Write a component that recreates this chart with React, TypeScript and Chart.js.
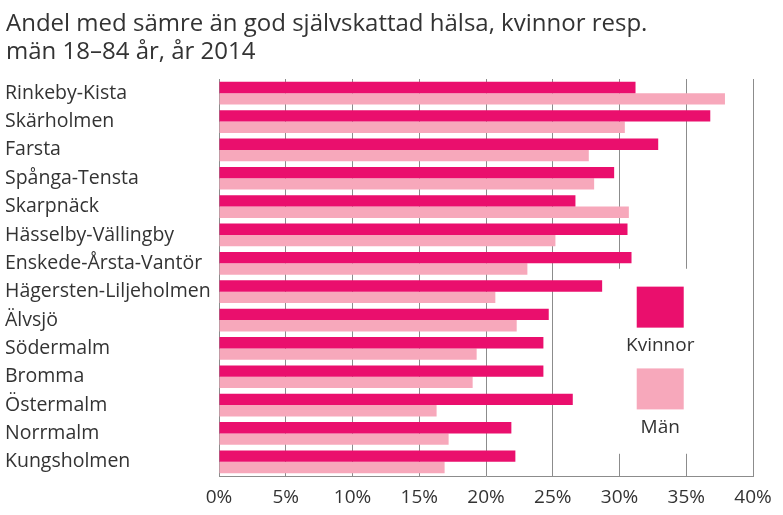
import React, { useEffect, useRef } from 'react';
import { Chart, registerables } from 'chart.js';

Chart.register(...registerables);

const titleLines = ['Andel med sämre än god självskattad hälsa, kvinnor resp.', 'män 18–84 år, år 2014'];
const categories = [
  'Rinkeby-Kista',
  'Skärholmen',
  'Farsta',
  'Spånga-Tensta',
  'Skarpnäck',
  'Hässelby-Vällingby',
  'Enskede-Årsta-Vantör',
  'Hägersten-Liljeholmen',
  'Älvsjö',
  'Södermalm',
  'Bromma',
  'Östermalm',
  'Norrmalm',
  'Kungsholmen',
];
const kvinnor = [31.2, 36.8, 32.9, 29.6, 26.7, 30.6, 30.9, 28.7, 24.7, 24.3, 24.3, 26.5, 21.9, 22.2];
const man = [37.9, 30.4, 27.7, 28.1, 30.7, 25.2, 23.1, 20.7, 22.3, 19.3, 19.0, 16.3, 17.2, 16.9];
const xTickValues = [0, 5, 10, 15, 20, 25, 30, 35, 40];
const seriesNames = ['Kvinnor', 'Män'];

const KV_COLOR = '#ea0f6d';
const MAN_COLOR = '#f7a8bb';
const TEXT = '#333333';
const FONT = '"Open Sans", sans-serif';

const decorPlugin = {
  id: 'decor',
  beforeDatasetsDraw(chart: any) {
    const { ctx, chartArea, scales } = chart;
    const x = scales.x;
    const h = chartArea.bottom - chartArea.top;
    const left = x.getPixelForValue(29.0);
    const right = x.getPixelForValue(37.8);
    const top = chartArea.top + h * 0.478;
    const bottom = chartArea.bottom - h * 0.056;
    ctx.save();
    ctx.fillStyle = '#ffffff';
    ctx.fillRect(left, top, right - left, bottom - top);
    ctx.restore();
  },
  afterDraw(chart: any) {
    const { ctx, chartArea, scales } = chart;
    const x = scales.x;
    const h = chartArea.bottom - chartArea.top;
    ctx.save();
    // title
    ctx.fillStyle = TEXT;
    ctx.font = `24px ${FONT}`;
    ctx.textAlign = 'left';
    ctx.textBaseline = 'alphabetic';
    ctx.fillText(titleLines[0], 6, 31);
    ctx.fillText(titleLines[1], 6, 59);
    // legend
    const cx = x.getPixelForValue(33.05);
    const sw = 47;
    const sh = 41;
    const colors = [KV_COLOR, MAN_COLOR];
    const sqTops = [chartArea.top + h * 0.523, chartArea.top + h * 0.729];
    ctx.font = `19px ${FONT}`;
    ctx.textAlign = 'center';
    ctx.textBaseline = 'middle';
    for (let i = 0; i < 2; i++) {
      ctx.fillStyle = colors[i];
      ctx.fillRect(cx - sw / 2, sqTops[i], sw, sh);
      ctx.fillStyle = TEXT;
      ctx.fillText(seriesNames[i], cx, sqTops[i] + sh + 18);
    }
    ctx.restore();
  },
};

export default function App() {
  const ref = useRef<HTMLCanvasElement | null>(null);
  useEffect(() => {
    document.body.style.margin = '0';
    const canvas = ref.current;
    if (!canvas) return;
    const chart = new Chart(canvas, {
      type: 'bar',
      data: {
        labels: categories,
        datasets: [
          {
            label: seriesNames[0],
            data: kvinnor,
            backgroundColor: KV_COLOR,
            borderWidth: 0,
            barPercentage: 1,
            categoryPercentage: 0.8,
          },
          {
            label: seriesNames[1],
            data: man,
            backgroundColor: MAN_COLOR,
            borderWidth: 0,
            barPercentage: 1,
            categoryPercentage: 0.8,
          },
        ],
      },
      options: {
        indexAxis: 'y',
        animation: false,
        responsive: false,
        maintainAspectRatio: false,
        layout: { padding: { top: 79, left: 5, right: 30, bottom: 0 } },
        plugins: {
          legend: { display: false },
          title: { display: false },
          tooltip: { enabled: false },
        },
        scales: {
          x: {
            min: 0,
            max: 40,
            afterBuildTicks(scale: any) {
              scale.ticks = xTickValues.map((v) => ({ value: v }));
            },
            afterFit(scale: any) {
              scale.height = 39;
            },
            grid: {
              display: true,
              color: '#8c8c8c',
              lineWidth: 1,
              drawTicks: false,
            },
            border: { display: true, color: '#8c8c8c', width: 1 },
            ticks: {
              padding: 10,
              color: TEXT,
              font: { family: FONT, size: 19 },
              callback: (v: any) => `${v}%`,
              maxRotation: 0,
            },
          },
          y: {
            afterFit(scale: any) {
              scale.width = 214;
            },
            grid: { display: false, drawTicks: false },
            border: { display: false },
            ticks: {
              crossAlign: 'far',
              padding: 0,
              color: TEXT,
              font: { family: FONT, size: 19.5 },
            },
          },
        },
      },
      plugins: [decorPlugin],
    });
    return () => chart.destroy();
  }, []);
  return (
    <div style={{ width: 783, height: 515, background: '#fff' }}>
      <canvas ref={ref} width={783} height={515} style={{ display: 'block', width: 783, height: 515 }} />
    </div>
  );
}
